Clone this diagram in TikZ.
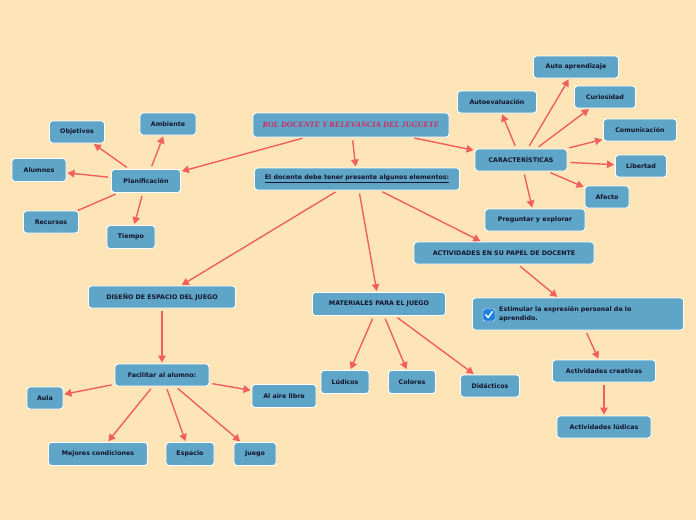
\documentclass[tikz,border=0pt]{standalone}
\usepackage{fontspec}
\setmainfont{DejaVu Sans}
\newfontfamily\titlefont{Liberation Serif}
\usetikzlibrary{arrows.meta}
\definecolor{bg}{HTML}{FEE5B8}
\definecolor{boxfill}{HTML}{5EA5C8}
\definecolor{edge}{HTML}{F05E5E}
\definecolor{txt}{HTML}{14142A}
\definecolor{titlered}{HTML}{D8245C}
\definecolor{chk}{HTML}{1E7FE0}
\tikzset{
  box/.style={draw=white, line width=0.9pt, fill=boxfill, rounded corners=3pt,
    minimum height=22pt, inner sep=0pt, align=center, text=txt,
    font=\fontsize{6.3}{7.5}\selectfont\bfseries},
  conn/.style={draw=edge, line width=1.4pt, -{Triangle[length=7pt,width=7.5pt]},
    shorten <=3pt, shorten >=1pt},
  plain/.style={draw=edge, line width=1.4pt, shorten <=3pt}
}
\begin{document}
\begin{tikzpicture}[x=1pt,y=-1pt]
\fill[bg] (0,0) rectangle (696,520);
\useasboundingbox (0,0) rectangle (696,520);

% nodes
\node[box, minimum width=196pt, minimum height=24pt, text=titlered,
  font=\titlefont\fontsize{8.2}{9}\selectfont\bfseries\itshape] (title) at (351,125) {ROL DOCENTE Y RELEVANCIA DEL JUGUETE};
\node[box, minimum width=205pt] (doc) at (357,179) {\underline{El docente debe tener presente algunos elementos:}};

\node[box, minimum width=92pt] (car) at (521,160) {CARACTERÍSTICAS};
\node[box, minimum width=85pt] (autoap) at (576,67) {Auto aprendizaje};
\node[box, minimum width=79pt] (autoev) at (497,102) {Autoevaluación};
\node[box, minimum width=61pt] (curio) at (605,97) {Curiosidad};
\node[box, minimum width=73pt] (comu) at (640,130) {Comunicación};
\node[box, minimum width=51pt] (liber) at (641,166) {Libertad};
\node[box, minimum width=44pt] (afecto) at (607,197) {Afecto};
\node[box, minimum width=100pt] (preg) at (535,220) {Preguntar y explorar};

\node[box, minimum width=180pt] (activ) at (504,253) {ACTIVIDADES EN SU PAPEL DE DOCENTE};
\node[box, minimum width=211pt, minimum height=32pt] (estim) at (578,314) {};
\node[anchor=west, inner sep=0pt, align=left, text=txt,
  font=\fontsize{6.3}{9}\selectfont\bfseries] (estimtxt) at (499,314) {Estimular la expresión personal de lo\\aprendido.};
\node[draw=white, line width=0.4pt, fill=chk, rounded corners=1.5pt, minimum size=12pt, inner sep=0pt] (chkbox) at (489,315) {};
\draw[white, line width=1.4pt, line cap=round, line join=round]
  ([xshift=-3.2pt,yshift=0.3pt]chkbox.center) -- ([xshift=-0.9pt,yshift=-2.6pt]chkbox.center) -- ([xshift=3.3pt,yshift=3.4pt]chkbox.center);
\node[box, minimum width=103pt] (creat) at (604,371) {Actividades creativas};
\node[box, minimum width=94pt] (ludic) at (604,427) {Actividades lúdicas};

\node[box, minimum width=69pt, minimum height=23pt] (plan) at (146,181) {Planificación};
\node[box, minimum width=55pt] (obj) at (77,132) {Objetivos};
\node[box, minimum width=56pt] (amb) at (168,124) {Ambiente};
\node[box, minimum width=54pt, minimum height=23pt] (alum) at (39,170) {Alumnos};
\node[box, minimum width=55pt] (recur) at (51,222) {Recursos};
\node[box, minimum width=48pt, minimum height=23pt] (tiempo) at (131,237) {Tiempo};

\node[box, minimum width=147pt] (dis) at (162,297) {DISEÑO DE ESPACIO DEL JUEGO};
\node[box, minimum width=94pt] (fac) at (162,375) {Facilitar al alumno:};
\node[box, minimum width=36pt] (aula) at (45,398) {Aula};
\node[box, minimum width=64pt, minimum height=23pt] (aire) at (284,396) {Al aire libre};
\node[box, minimum width=99pt, minimum height=23pt] (mejor) at (98,454) {Mejores condiciones};
\node[box, minimum width=48pt, minimum height=23pt] (esp) at (190,454) {Espacio};
\node[box, minimum width=42pt, minimum height=23pt] (juego) at (255,454) {Juego};

\node[box, minimum width=133pt, minimum height=23pt] (mat) at (379,304) {MATERIALES PARA EL JUEGO};
\node[box, minimum width=48pt, minimum height=23pt] (lud) at (345,382) {Lúdicos};
\node[box, minimum width=47pt, minimum height=23pt] (col) at (412,382) {Colores};
\node[box, minimum width=59pt] (did) at (490,386) {Didácticos};

% connectors
\draw[conn] (title) -- (plan);
\draw[conn] (title) -- (doc);
\draw[conn] (title) -- (car);
\draw[conn] (car) -- (autoap);
\draw[conn] (car) -- (autoev);
\draw[conn] (car) -- (curio);
\draw[conn] (car) -- (comu);
\draw[conn] (car) -- (liber);
\draw[conn] (car) -- (afecto);
\draw[conn] (car) -- (preg);
\draw[conn] (doc) -- (dis);
\draw[conn] (doc) -- (mat);
\draw[conn] (doc) -- (activ);
\draw[conn] (activ) -- (estim);
\draw[conn] (estim) -- (creat);
\draw[conn] (creat) -- (ludic);
\draw[conn] (plan) -- (obj);
\draw[conn] (plan) -- (amb);
\draw[conn] (plan) -- (alum);
\draw[plain] (plan) -- (recur);
\draw[conn] (plan) -- (tiempo);
\draw[conn] (dis) -- (fac);
\draw[conn] (fac) -- (aula);
\draw[conn] (fac) -- (aire);
\draw[conn] (fac) -- (mejor);
\draw[conn] (fac) -- (esp);
\draw[conn] (fac) -- (juego);
\draw[conn] (mat) -- (lud);
\draw[conn] (mat) -- (col);
\draw[conn] (mat) -- (did);
\end{tikzpicture}
\end{document}
